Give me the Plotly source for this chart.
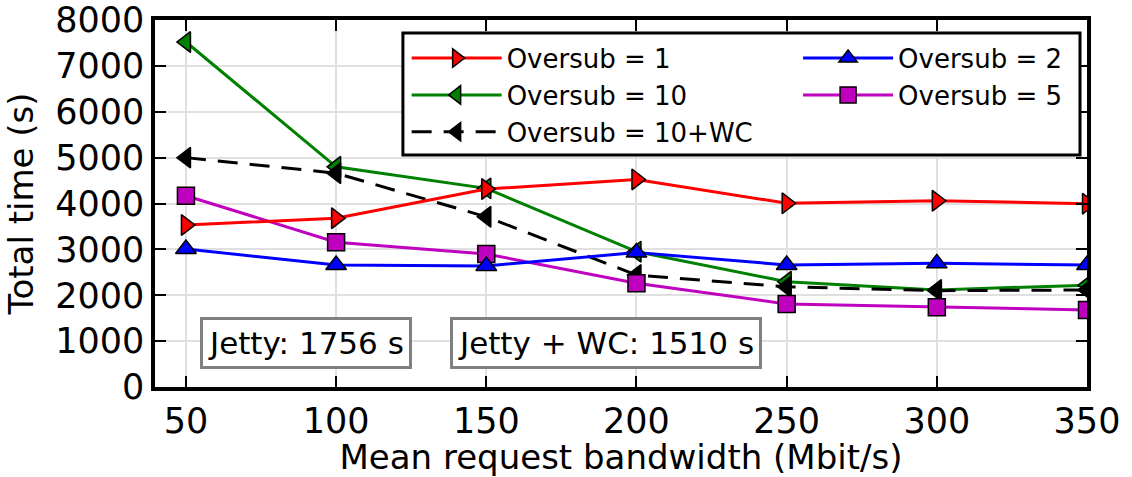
import plotly.graph_objects as go

bandwidth = [50, 100, 150, 200, 250, 300, 350]
oversub_1 = [3530, 3680, 4315, 4525, 4005, 4060, 3995]
oversub_2 = [3010, 2660, 2640, 2930, 2660, 2695, 2660]
oversub_10 = [7520, 4800, 4330, 2950, 2295, 2115, 2220]
oversub_5 = [4170, 3155, 2900, 2260, 1810, 1740, 1680]
oversub_10wc = [5000, 4660, 3710, 2440, 2185, 2100, 2115]

# name, values, colour, marker, dash, legend, rank
series = [
    ("Oversub = 10", oversub_10, "#008000", "triangle-left", "solid", "legend", 2),
    ("Oversub = 10+WC", oversub_10wc, "#000000", "triangle-left", "20px,12px", "legend", 3),
    ("Oversub = 5", oversub_5, "#bf00bf", "square", "solid", "legend2", 2),
    ("Oversub = 2", oversub_2, "#0000ff", "triangle-up", "solid", "legend2", 1),
    ("Oversub = 1", oversub_1, "#ff0000", "triangle-right", "solid", "legend", 1),
]

fig = go.Figure()
for name, vals, color, sym, dash, leg, rank in series:
    fig.add_trace(go.Scatter(
        x=bandwidth, y=vals, name=name, mode="lines+markers",
        line=dict(color=color, width=3, dash=dash),
        marker=dict(symbol=sym, size=17 if sym == "square" else 18, color=color,
                    line=dict(color="black", width=1.5)),
        legend=leg, legendrank=rank,
    ))

annotations = [
    ("Jetty: 1756 s", 90, 960),
    ("Jetty + WC: 1510 s", 190, 960),
]
for text, ax, ay in annotations:
    fig.add_annotation(x=ax, y=ay, xref="x", yref="y", text=text, showarrow=False,
                       font=dict(size=31, color="black"), bgcolor="white",
                       bordercolor="#808080", borderwidth=3, borderpad=5)

# legend frame (shared by both legend columns)
fig.add_shape(type="rect", xref="paper", yref="paper", x0=0.266, x1=0.9925, y0=0.632, y1=0.9646,
              line=dict(color="black", width=3), fillcolor="white", layer="above")

axis_common = dict(
    showline=True, linecolor="black", linewidth=3.5, mirror="ticks",
    ticks="inside", ticklen=11, tickwidth=2, tickcolor="black",
    showgrid=True, gridcolor="#e0e0e0", gridwidth=1.5, zeroline=False,
    tickfont=dict(size=35, color="black"),
)

fig.update_xaxes(range=[39.7, 350], tickvals=bandwidth,
                 title=dict(text="Mean request bandwidth (Mbit/s)", font=dict(size=34, color="black"), standoff=6),
                 **axis_common)
fig.update_yaxes(range=[0, 8000], tickvals=[0, 1000, 2000, 3000, 4000, 5000, 6000, 7000, 8000],
                 title=dict(text="Total time (s)", font=dict(size=34, color="black"), standoff=12),
                 **axis_common)

legend_common = dict(xanchor="left", yanchor="top", itemwidth=90,
                     bgcolor="rgba(0,0,0,0)", borderwidth=0,
                     font=dict(size=26, color="black"), traceorder="normal")
fig.update_layout(
    width=1132, height=477,
    margin=dict(l=155, r=45, t=20, b=90, autoexpand=False),
    paper_bgcolor="white", plot_bgcolor="white",
    font=dict(family="DejaVu Sans", color="black"),
    hovermode=False,
    legend=dict(x=0.27, y=0.96, **legend_common),
    legend2=dict(x=0.69, y=0.96, **legend_common),
)

fig.write_html("out.html", config={"displayModeBar": False},
               post_script="document.body.style.margin='0';")
